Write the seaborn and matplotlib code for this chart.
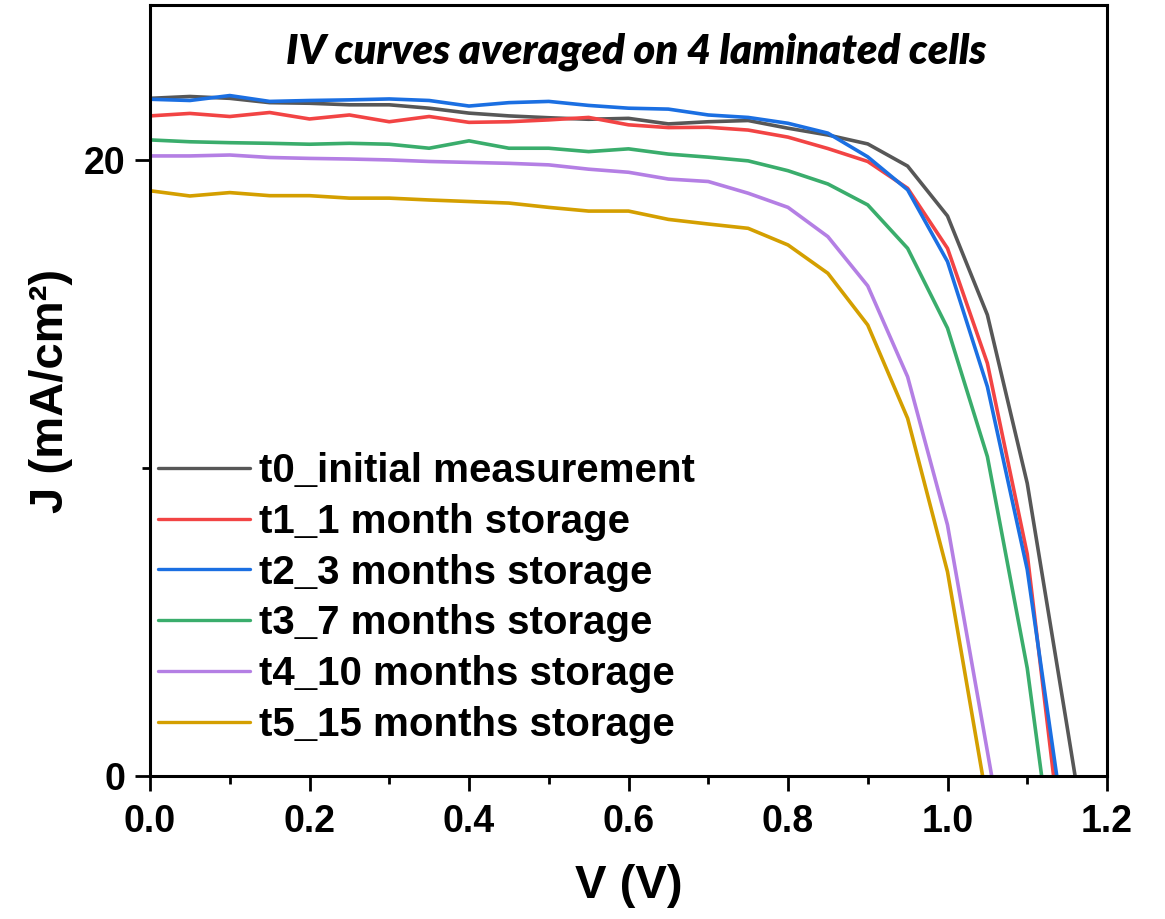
import matplotlib
matplotlib.use("Agg")
import matplotlib.pyplot as plt
import seaborn as sns
import pandas as pd
from matplotlib.ticker import MultipleLocator

# ---------------- data ----------------
voltage = [0.00, 0.05, 0.10, 0.15, 0.20, 0.25, 0.30, 0.35, 0.40, 0.45, 0.50,
           0.55, 0.60, 0.65, 0.70, 0.75, 0.80, 0.85, 0.90, 0.95, 1.00, 1.05,
           1.10, 1.15, 1.20]

series_labels = ["t0_initial measurement", "t1_1 month storage",
                 "t2_3 months storage", "t3_7 months storage",
                 "t4_10 months storage", "t5_15 months storage"]

j_t0 = [22.00, 22.06, 22.00, 21.86, 21.84, 21.79, 21.79, 21.68, 21.52, 21.43,
        21.37, 21.32, 21.35, 21.17, 21.24, 21.28, 21.03, 20.81, 20.52, 19.80,
        18.18, 14.97, 9.50, 1.60, -6.40]
j_t1 = [21.43, 21.51, 21.41, 21.54, 21.33, 21.46, 21.24, 21.41, 21.22, 21.24,
        21.30, 21.38, 21.14, 21.05, 21.06, 20.97, 20.74, 20.37, 19.95, 19.08,
        17.13, 13.40, 7.20, -3.70]
j_t2 = [21.97, 21.93, 22.09, 21.90, 21.93, 21.95, 21.98, 21.93, 21.75, 21.86,
        21.90, 21.77, 21.68, 21.65, 21.46, 21.38, 21.19, 20.87, 20.10, 19.03,
        16.70, 12.64, 6.70, -2.35]
j_t3 = [20.65, 20.59, 20.56, 20.54, 20.51, 20.54, 20.51, 20.38, 20.62, 20.38,
        20.38, 20.27, 20.36, 20.19, 20.09, 19.97, 19.65, 19.22, 18.54, 17.13,
        14.54, 10.37, 3.50, -6.20]
j_t4 = [20.13, 20.13, 20.16, 20.08, 20.05, 20.03, 20.00, 19.95, 19.92, 19.89,
        19.84, 19.70, 19.60, 19.38, 19.30, 18.92, 18.46, 17.51, 15.91, 12.96,
        8.15, 0.80, -6.60]
j_t5 = [19.00, 18.83, 18.94, 18.84, 18.84, 18.76, 18.76, 18.70, 18.65, 18.60,
        18.46, 18.34, 18.34, 18.07, 17.92, 17.78, 17.24, 16.32, 14.64, 11.61,
        6.63, -0.90]

colors = ["#575757", "#f24444", "#1b6fe2", "#3aad6c", "#b47fe4", "#d49f00"]

x_ticks = [0.0, 0.2, 0.4, 0.6, 0.8, 1.0, 1.2]
y_ticks = [0, 20]

# ---------------- build table ----------------
rows = []
for lab, js in zip(series_labels, [j_t0, j_t1, j_t2, j_t3, j_t4, j_t5]):
    for v, j in zip(voltage, js):
        rows.append({"V": v, "J": j, "series": lab})
df = pd.DataFrame(rows)

sns.set_theme(style="ticks")
plt.rcParams["font.family"] = ["Liberation Sans", "DejaVu Sans"]
plt.rcParams["text.color"] = "black"
plt.rcParams["axes.labelcolor"] = "black"
plt.rcParams["xtick.color"] = "black"
plt.rcParams["ytick.color"] = "black"

fig = plt.figure(figsize=(11.65, 9.19), dpi=100)
ax = fig.add_axes([150 / 1165, 1 - 776 / 919, 957 / 1165, 771 / 919])

sns.lineplot(data=df, x="V", y="J", hue="series", hue_order=series_labels,
             palette=colors, sort=False, estimator=None, linewidth=2.6, ax=ax)

ax.set_xlim(0, 1.2)
ax.set_ylim(0, 25.03)
ax.xaxis.set_major_locator(MultipleLocator(0.2))
ax.xaxis.set_minor_locator(MultipleLocator(0.1))
ax.set_yticks(y_ticks)
ax.yaxis.set_minor_locator(MultipleLocator(10))
ax.set_xticks(x_ticks)
ax.set_xticklabels([f"{t:.1f}" for t in x_ticks])

for s in ax.spines.values():
    s.set_linewidth(2.2)
    s.set_color("black")

ax.tick_params(axis="both", which="major", direction="out", length=10.5,
               width=2, labelsize=27, colors="black", labelcolor="black")
ax.tick_params(axis="x", which="major", pad=10)
ax.tick_params(axis="y", which="major", pad=7)
ax.tick_params(axis="both", which="minor", direction="out", length=6,
               width=2, colors="black")
for lbl in ax.get_xticklabels() + ax.get_yticklabels():
    lbl.set_fontweight("bold")

ax.set_xlabel("V (V)", fontsize=34, fontweight="bold", labelpad=17,
              color="black")
ax.set_ylabel("J (mA/cm²)", fontsize=34, fontweight="bold", labelpad=8,
              color="black")

ax.text(0.508, 0.940, "IV curves averaged on 4 laminated cells",
        transform=ax.transAxes, ha="center", va="center", fontsize=30,
        fontstyle="italic", fontweight="heavy", color="black",
        family=["Lato", "DejaVu Sans"])

leg = ax.legend(loc="upper left", bbox_to_anchor=(0.008, 0.42), frameon=False,
                fontsize=29, handlelength=2.3, handletextpad=0.22,
                labelspacing=0.315, borderpad=0, borderaxespad=0)
for t in leg.get_texts():
    t.set_fontweight("bold")
    t.set_color("black")
for h in leg.get_lines():
    h.set_linewidth(2.4)

fig.savefig("out.png", dpi=100)
